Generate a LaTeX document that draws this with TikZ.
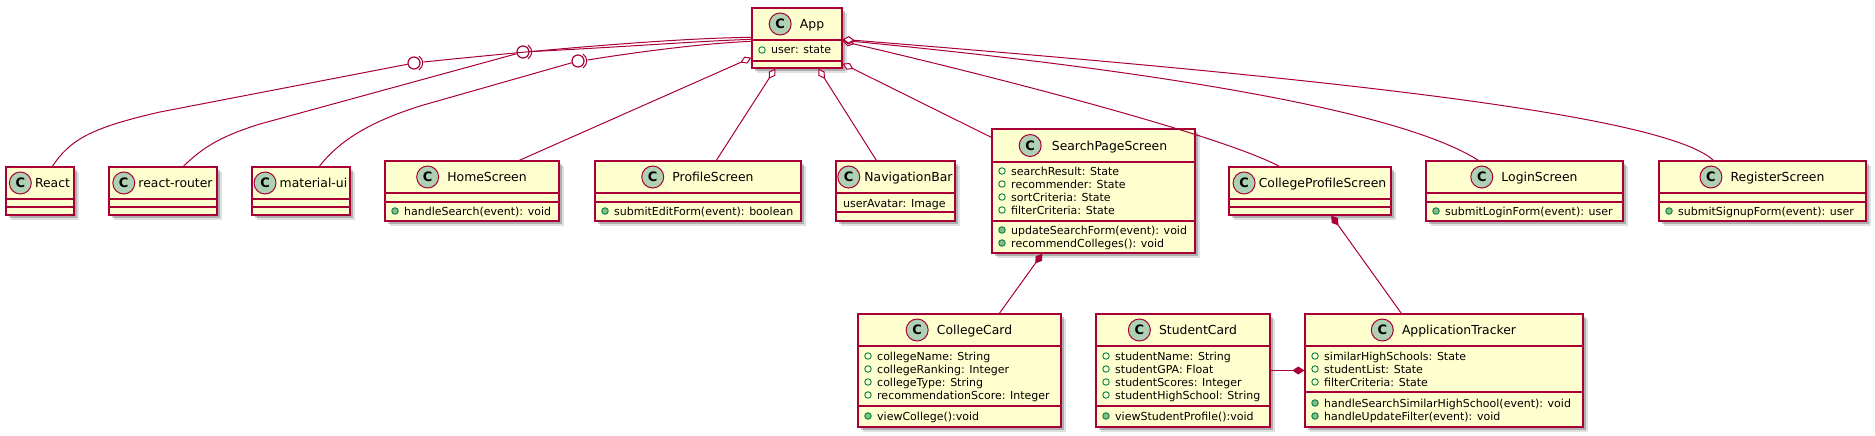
\documentclass[tikz,border=0pt]{standalone}
\usepackage{fontspec}
\setmainfont{DejaVu Sans}
\usetikzlibrary{calc,shadows,arrows.meta}
\definecolor{umlred}{HTML}{A80036}
\definecolor{umlfill}{HTML}{FEFECE}
\definecolor{iconfill}{HTML}{ADD1B2}
\definecolor{visgreen}{HTML}{038048}
\definecolor{visfill}{HTML}{84BE84}
\newcounter{mem}
\tikzset{
  classbox/.style={draw=umlred, fill=umlfill, line width=1.3pt, inner sep=0pt,
    drop shadow={shadow xshift=5pt, shadow yshift=-5pt, opacity=0.12, fill=black},
    drop shadow={shadow xshift=3pt, shadow yshift=-3pt, opacity=0.22, fill=black}},
  sepline/.style={draw=umlred, line width=1.2pt},
  classname/.style={inner sep=0pt, font=\fontsize{12.4}{14}\selectfont, text height=9pt, text depth=0pt},
  classicon/.style={circle, draw=umlred, line width=1pt, fill=iconfill, minimum size=22pt, inner sep=0pt,
    font=\bfseries\fontsize{13}{13}\selectfont},
  member/.style={inner sep=0pt, anchor=west, font=\fontsize{11}{13}\selectfont, text height=8pt, text depth=0pt},
  fieldmark/.style={circle, draw=visgreen, line width=0.9pt, minimum size=6.5pt, inner sep=0pt},
  methodmark/.style={circle, draw=visgreen, fill=visfill, line width=0.9pt, minimum size=6.5pt, inner sep=0pt},
  conn/.style={draw=umlred, line width=1pt},
  lollcircle/.style={circle, draw=umlred, line width=1.2pt, minimum size=12pt, inner sep=0pt},
  agg/.style={conn, {Diamond[fill=white, length=12pt, width=7.5pt]}-},
  comp/.style={conn, {Diamond[fill=umlred, length=12pt, width=8pt]}-},
  compend/.style={conn, -{Diamond[fill=umlred, length=12pt, width=8pt]}},
}
% #1 id, #2 x1, #3 y1, #4 x2, #5 y2, #6 sep1, #7 sep2, #8 name, #9 gap
\newcommand\umlclass[9]{%
  \pgfmathsetmacro\bw{#4-#2}\pgfmathsetmacro\bh{#5-#3}%
  \node[classbox, minimum width=\bw pt, minimum height=\bh pt] (#1) at ({(#2+#4)/2},{(#3+#5)/2}) {};
  \draw[sepline] (#2,#6) -- (#4,#6);
  \draw[sepline] (#2,#7) -- (#4,#7);
  \node[classname] (#1-name) at ({(#2+#4)/2+(22+#9)/2},{(#3+#6)/2}) {#8};
  \node[classicon, anchor=east] (#1-icon) at ($(#1-name.west)+(-#9,0)$) {C};
}
\newcommand\fldrow[3]{\stepcounter{mem}%
  \node[fieldmark] (mk\themem) at ({#1+10},{#2}) {};
  \node[member] (mt\themem) at ({#1+19},{#2}) {#3};}
\newcommand\mthrow[3]{\stepcounter{mem}%
  \node[methodmark] (mk\themem) at ({#1+10},{#2}) {};
  \node[member] (mt\themem) at ({#1+19},{#2}) {#3};}
\newcommand\plainrow[3]{\stepcounter{mem}%
  \node[member] (mt\themem) at ({#1+7},{#2}) {#3};}
\begin{document}
\begin{tikzpicture}[x=1pt, y=-1pt]
\useasboundingbox (0,0) rectangle (1875,436);
% classes
\umlclass{App}{752}{8}{842}{68}{40}{61}{App}{8}
\fldrow{752}{50}{user: state}
\umlclass{React}{6}{167}{74}{215}{199}{207}{React}{3}
\umlclass{reactrouter}{109}{167}{217}{215}{199}{207}{react-router}{3}
\umlclass{materialui}{252}{167}{350}{215}{199}{207}{material-ui}{3}
\umlclass{HomeScreen}{385}{161}{559}{221}{193}{202}{HomeScreen}{8}
\mthrow{385}{211}{handleSearch(event): void}
\umlclass{ProfileScreen}{595}{161}{801}{221}{193}{202}{ProfileScreen}{8}
\mthrow{595}{211}{submitEditForm(event): boolean}
\umlclass{NavigationBar}{836}{161}{955}{221}{193}{212}{NavigationBar}{4}
\plainrow{836}{203}{userAvatar: Image}
\umlclass{SearchPageScreen}{992}{129}{1195}{253}{162}{221}{SearchPageScreen}{10}
\fldrow{992}{171}{searchResult: State}
\fldrow{992}{184}{recommender: State}
\fldrow{992}{197}{sortCriteria: State}
\fldrow{992}{210}{filterCriteria: State}
\mthrow{992}{230}{updateSearchForm(event): void}
\mthrow{992}{243}{recommendColleges(): void}
\umlclass{CollegeProfileScreen}{1229}{167}{1391}{215}{199}{207}{CollegeProfileScreen}{3}
\umlclass{LoginScreen}{1426}{161}{1623}{221}{193}{202}{LoginScreen}{8}
\mthrow{1426}{211}{submitLoginForm(event): user}
\umlclass{RegisterScreen}{1659}{161}{1866}{221}{193}{202}{RegisterScreen}{8}
\mthrow{1659}{211}{submitSignupForm(event): user}
\umlclass{CollegeCard}{858}{314}{1061}{427}{346}{406}{CollegeCard}{8}
\fldrow{858}{356}{collegeName: String}
\fldrow{858}{369}{collegeRanking: Integer}
\fldrow{858}{382}{collegeType: String}
\fldrow{858}{395}{recommendationScore: Integer}
\mthrow{858}{416}{viewCollege():void}
\umlclass{StudentCard}{1096}{314}{1270}{427}{346}{406}{StudentCard}{8}
\fldrow{1096}{356}{studentName: String}
\fldrow{1096}{369}{studentGPA: Float}
\fldrow{1096}{382}{studentScores: Integer}
\fldrow{1096}{395}{studentHighSchool: String}
\mthrow{1096}{416}{viewStudentProfile():void}
\umlclass{ApplicationTracker}{1305}{314}{1583}{427}{346}{392}{ApplicationTracker}{8}
\fldrow{1305}{356}{similarHighSchools: State}
\fldrow{1305}{369}{studentList: State}
\fldrow{1305}{382}{filterCriteria: State}
\mthrow{1305}{403}{handleSearchSimilarHighSchool(event): void}
\mthrow{1305}{416}{handleUpdateFilter(event): void}
% ball-and-socket connectors
\node[lollcircle] (c1) at (414,63) {};
\node[lollcircle] (c2) at (523,52) {};
\node[lollcircle] (c3) at (578,61) {};
\draw[conn] ($(React.north west)+(47,0)$) .. controls (70,140) and (90,128) .. (160,112) -- (c1);
\draw[conn] ($(c1.center)+(5,-7)$) .. controls ($(c1.center)+(10,-3)$) and ($(c1.center)+(10,3)$) .. ($(c1.center)+(5,7)$);
\draw[conn] ($(c1.center)+(9.5,-1)$) .. controls (560,48) and (680,38) .. ($(App.north west)+(0,30)$);
\draw[conn] ($(reactrouter.north west)+(75,0)$) .. controls (205,145) and (225,135) .. (260,124) -- (c2);
\draw[conn] ($(c2.center)+(5,-7)$) .. controls ($(c2.center)+(10,-3)$) and ($(c2.center)+(10,3)$) .. ($(c2.center)+(5,7)$);
\draw[conn] ($(c2.center)+(9.5,-0.5)$) .. controls (640,46) and (700,41) .. ($(App.north west)+(0,32)$);
\draw[conn] ($(materialui.north west)+(68,0)$) .. controls (340,140) and (370,122) .. (420,106) -- (c3);
\draw[conn] ($(c3.center)+(5,-7)$) .. controls ($(c3.center)+(10,-3)$) and ($(c3.center)+(10,3)$) .. ($(c3.center)+(5,7)$);
\draw[conn] ($(c3.center)+(9.5,-1)$) .. controls (650,50) and (710,43) .. ($(App.north west)+(0,34)$);
% aggregations from App
\draw[agg] ($(App.south west)+(0,-11)$) -- ($(HomeScreen.north west)+(135,0)$);
\draw[agg] ($(App.south west)+(24,0)$) -- ($(ProfileScreen.north west)+(122,0)$);
\draw[agg] ($(App.south west)+(67,0)$) -- ($(NavigationBar.north west)+(41,0)$);
\draw[agg] ($(App.south east)+(0,-5)$) -- ($(SearchPageScreen.north west)+(0,9)$);
\draw[agg] ($(App.north east)+(0,34)$) .. controls (1000,78) and (1220,135) .. ($(CollegeProfileScreen.north west)+(51,0)$);
\draw[agg] ($(App.north east)+(0,33)$) .. controls (1150,70) and (1400,110) .. ($(LoginScreen.north west)+(53,0)$);
\draw[agg] ($(App.north east)+(0,32)$) .. controls (1250,72) and (1660,110) .. ($(RegisterScreen.north west)+(55,0)$);
% compositions
\draw[comp] ($(SearchPageScreen.south west)+(51,0)$) -- ($(CollegeCard.north west)+(142,0)$);
\draw[comp] ($(CollegeProfileScreen.south west)+(103,0)$) -- ($(ApplicationTracker.north west)+(97,0)$);
\draw[compend] (StudentCard.east) -- (ApplicationTracker.west);
\end{tikzpicture}
\end{document}
